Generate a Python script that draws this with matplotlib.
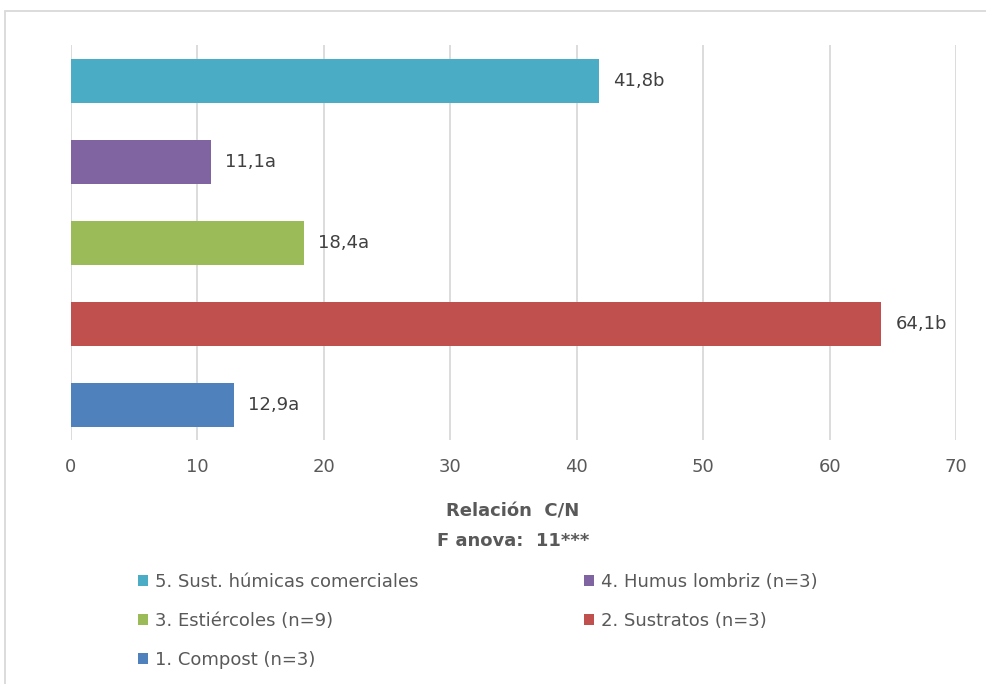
import matplotlib
matplotlib.use("Agg")
import matplotlib.pyplot as plt
from matplotlib.patches import Patch, Rectangle

# data, bottom to top as drawn
categories = ['1. Compost (n=3)', '2. Sustratos (n=3)', '3. Estiércoles (n=9)',
              '4. Humus lombriz (n=3)', '5. Sust. húmicas comerciales']
values = [12.9, 64.1, 18.4, 11.1, 41.8]
letters = ['a', 'b', 'a', 'a', 'b']
colors = ['#4F81BD', '#C0504D', '#9BBB59', '#8064A2', '#4BACC6']
xticks = [0, 10, 20, 30, 40, 50, 60, 70]

plt.rcParams['font.family'] = ['DejaVu Sans']
grey = '#595959'
fs = 13

fig = plt.figure(figsize=(9.86, 6.84), dpi=100)
W, H = 986, 684
ax = fig.add_axes([71 / W, 1 - 440 / H, (956 - 71) / W, (440 - 45) / H])

ypos = list(range(len(values)))
ax.barh(ypos, values, height=0.54, color=colors, zorder=2)

# data labels
for y, v, l in zip(ypos, values, letters):
    txt = ('%.1f' % v).replace('.', ',') + l
    ax.annotate(txt, (v, y), xytext=(10, 0), textcoords='offset points',
                va='center', ha='left', fontsize=fs, color='#404040')

ax.set_xlim(0, 70)
ax.set_ylim(-0.43, 4.44)
ax.set_xticks(xticks)
ax.set_yticks([])
ax.grid(axis='x', color='#D9D9D9', linewidth=1.3, zorder=0)
for s in ax.spines.values():
    s.set_visible(False)
ax.tick_params(axis='x', length=0, labelsize=fs, colors=grey, pad=13)

# axis title
fig.text(513 / W, 1 - 511 / H, 'Relación  C/N', ha='center', va='center',
         fontsize=fs, fontweight='bold', color=grey)
fig.text(513 / W, 1 - 541 / H, 'F anova:  11***', ha='center', va='center',
         fontsize=fs, fontweight='bold', color=grey)

# legend: columns 5,3,1 | 4,2
order = [4, 2, 0, 3, 1]
handles = [Patch(facecolor=colors[i], edgecolor='none') for i in order]
labels = [categories[i] for i in order]
fig.legend(handles, labels, ncol=2, loc='upper left', bbox_to_anchor=(122 / W, 1 - 557 / H),
           frameon=False, fontsize=fs, labelcolor=grey, handlelength=0.55,
           handleheight=0.55, handletextpad=0.4, columnspacing=9.15, labelspacing=1.15)

# chart area border
fig.patches.append(Rectangle((5 / W, -0.1), 1.2, 1 - 11 / H + 0.1, transform=fig.transFigure,
                             fill=False, edgecolor='#D9D9D9', linewidth=1.3))

fig.savefig('out.png', dpi=100)
